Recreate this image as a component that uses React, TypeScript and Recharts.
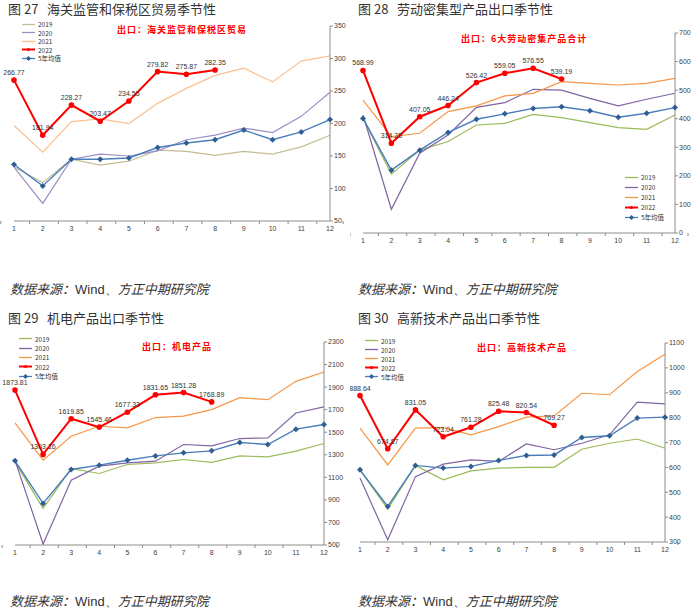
import React from 'react';
import { LineChart, Line, XAxis, YAxis, LabelList } from 'recharts';

const months = ['1', '2', '3', '4', '5', '6', '7', '8', '9', '10', '11', '12'];
const seriesNames = ['2019', '2020', '2021', '2022', '5年均值'];

// 图27 海关监管和保税区贸易
const customs2019 = [133, 109, 145, 136, 142, 159, 157, 151, 157, 153, 164, 182];
const customs2020 = [133, 77, 145, 153, 150, 158, 175, 182, 193, 186, 211, 248];
const customs2021 = [197, 156, 203, 207, 200, 231, 254, 274, 285, 264, 296, 304];
const customs2022 = [266.77, 181.94, 228.27, 203.47, 234.55, 279.82, 275.87, 282.35];
const customsAvg = [137, 104, 145, 145, 147, 163, 170, 175, 190, 175, 187, 206];
const customsTicks = [50, 100, 150, 200, 250, 300, 350];

// 图28 劳动密集型产品
const labor2019 = [401, 206, 290, 320, 378, 384, 415, 404, 386, 369, 363, 413];
const labor2020 = [413, 83, 279, 343, 440, 456, 503, 500, 471, 445, 468, 489];
const labor2021 = [465, 337, 349, 425, 445, 480, 489, 530, 524, 518, 524, 541];
const labor2022 = [568.99, 314.25, 407.05, 446.24, 526.42, 559.05, 576.55, 539.19];
const laborAvg = [401, 220, 290, 352, 398, 417, 436, 442, 428, 405, 419, 439];
const laborTicks = [0, 100, 200, 300, 400, 500, 600, 700];

// 图29 机电产品
const mech2019 = [1237, 825, 1178, 1134, 1214, 1228, 1258, 1232, 1290, 1281, 1332, 1400];
const mech2020 = [1252, 509, 1075, 1199, 1228, 1243, 1391, 1379, 1444, 1450, 1671, 1724];
const mech2021 = [1582, 1252, 1465, 1553, 1538, 1630, 1642, 1701, 1807, 1789, 1951, 2034];
const mech2022 = [1873.81, 1303.16, 1619.85, 1545.46, 1677.33, 1831.65, 1851.28, 1768.89];
const mechAvg = [1246, 869, 1170, 1208, 1252, 1290, 1317, 1335, 1409, 1391, 1527, 1568];
const mechTicks = [500, 700, 900, 1100, 1300, 1500, 1700, 1900, 2100, 2300];

// 图30 高新技术产品
const tech2019 = [590, 432, 608, 550, 586, 597, 600, 600, 673, 697, 714, 677];
const tech2020 = [557, 309, 563, 613, 630, 624, 694, 671, 697, 731, 862, 855];
const tech2021 = [758, 610, 758, 760, 731, 764, 802, 807, 898, 892, 985, 1055];
const tech2022 = [888.64, 674.87, 831.05, 723.04, 761.28, 825.48, 820.54, 769.27];
const techAvg = [590, 443, 608, 597, 604, 628, 648, 650, 720, 727, 798, 802];
const techTicks = [300, 400, 500, 600, 700, 800, 900, 1000, 1100];

const buildRows = (a: number[], b: number[], c: number[], d: number[], avg: number[]) =>
    months.map((m, i) => ({
        month: m,
        y2019: a[i],
        y2020: b[i],
        y2021: c[i],
        y2022: d[i] ?? null,
        avg: avg[i],
    }));

const COLORS_27 = ['#c4bd97', '#9d8fc6', '#fac090', '#ff0000', '#4a7ebb'];
const COLORS = ['#9bbb59', '#8064a2', '#f79646', '#ff0000', '#4a7ebb'];

const LATIN = '"Liberation Sans", Arial, sans-serif';
const TICK_STYLE = { fontSize: 7, fill: '#404040', fontFamily: LATIN };
const CJK = '"Noto Sans CJK SC", sans-serif';
const AXIS_COLOR = '#8c8c8c';

// 5年均值 的菱形标记
const Diamond = (props: any) => {
    const { cx, cy, index } = props;
    if (cx == null || cy == null) return <g key={`d-${index}`} />;
    const s = 3;
    return (
        <path
            key={`d-${index}`}
            d={`M${cx},${cy - s}L${cx + s},${cy}L${cx},${cy + s}L${cx - s},${cy}Z`}
            fill="#2f5f92"
        />
    );
};

// 类目轴：刻度线画在类目之间（同 Excel）
const makeMonthTick = (band: number) => (props: any) => {
    const { x, y, payload, index } = props;
    const axisY = y - 5;
    return (
        <g>
            <line x1={x - band / 2} y1={axisY} x2={x - band / 2} y2={axisY + 3} stroke={AXIS_COLOR} />
            {index === months.length - 1 && (
                <line x1={x + band / 2} y1={axisY} x2={x + band / 2} y2={axisY + 3} stroke={AXIS_COLOR} />
            )}
            <text x={x} y={y} dy="0.71em" textAnchor="middle" {...TICK_STYLE}>
                {payload.value}
            </text>
        </g>
    );
};

interface PanelProps {
    left: number;
    top: number;
    width: number;
    height: number;
    marginTop: number;
    marginLeft: number;
    yWidth: number;
    xHeight: number;
    domain: [number, number];
    ticks: number[];
    rows: any[];
    colors: string[];
    title: string;
    titleTop: number;
    subtitle: string;
    subtitleLeft: number;
    subtitleTop: number;
    legendLeft: number;
    legendTop: number;
    legendGap: number;
}

const Panel: React.FC<PanelProps> = (p) => {
    const band = (p.width - p.marginLeft - p.yWidth) / months.length;
    return (
        <div style={{ position: 'absolute', left: p.left, top: p.top, width: p.width, height: p.height }}>
            <div
                style={{
                    position: 'absolute',
                    left: 8,
                    top: p.titleTop,
                    fontFamily: CJK,
                    fontSize: 13,
                    color: '#333',
                    whiteSpace: 'pre',
                    lineHeight: '16px',
                }}
            >
                {p.title}
            </div>
            <div style={{ position: 'absolute', left: 0, top: 0 }}>
                <LineChart
                    width={p.width}
                    height={p.height}
                    data={p.rows}
                    margin={{ top: p.marginTop, right: 0, left: p.marginLeft, bottom: 0 }}
                >
                    <XAxis
                        dataKey="month"
                        height={p.xHeight}
                        interval={0}
                        tickLine={false}
                        tickSize={3}
                        tickMargin={2}
                        axisLine={{ stroke: AXIS_COLOR }}
                        tick={makeMonthTick(band)}
                    />
                    <YAxis
                        orientation="right"
                        width={p.yWidth}
                        domain={p.domain}
                        ticks={p.ticks}
                        interval={0}
                        tickSize={3}
                        tickMargin={1}
                        axisLine={{ stroke: AXIS_COLOR }}
                        tickLine={{ stroke: AXIS_COLOR }}
                        tick={{ ...TICK_STYLE, textAnchor: 'start' }}
                    />
                    <Line dataKey="y2019" stroke={p.colors[0]} strokeWidth={1.2} dot={false} isAnimationActive={false} />
                    <Line dataKey="y2020" stroke={p.colors[1]} strokeWidth={1.2} dot={false} isAnimationActive={false} />
                    <Line dataKey="y2021" stroke={p.colors[2]} strokeWidth={1.2} dot={false} isAnimationActive={false} />
                    <Line
                        dataKey="avg"
                        stroke={p.colors[4]}
                        strokeWidth={1.4}
                        dot={Diamond}
                        isAnimationActive={false}
                    />
                    <Line
                        dataKey="y2022"
                        stroke={p.colors[3]}
                        strokeWidth={2}
                        dot={{ r: 1.8, fill: '#ff0000', stroke: '#ff0000' }}
                        isAnimationActive={false}
                    >
                        <LabelList
                            dataKey="y2022"
                            position="top"
                            offset={5}
                            style={{ fontSize: 7, fill: '#333', fontFamily: LATIN }}
                            formatter={(v: any) => (v == null ? '' : Number(v).toFixed(2))}
                        />
                    </Line>
                </LineChart>
            </div>
            <div
                style={{
                    position: 'absolute',
                    left: p.subtitleLeft,
                    top: p.subtitleTop,
                    fontFamily: CJK,
                    fontWeight: 700,
                    fontSize: 9,
                    letterSpacing: 1,
                    color: '#ff0000',
                    whiteSpace: 'nowrap',
                    lineHeight: '12px',
                }}
            >
                {p.subtitle}
            </div>
            {/* 图例 */}
            <div style={{ position: 'absolute', left: p.legendLeft, top: p.legendTop }}>
                {seriesNames.map((name, i) => (
                    <div key={name} style={{ display: 'flex', alignItems: 'center', height: p.legendGap }}>
                        <svg width={13} height={7}>
                            <line
                                x1={0}
                                y1={3.5}
                                x2={13}
                                y2={3.5}
                                stroke={p.colors[i]}
                                strokeWidth={i === 3 ? 2 : 1.3}
                            />
                            {i === 3 && <circle cx={6.5} cy={3.5} r={1.6} fill="#ff0000" />}
                            {i === 4 && <path d="M6.5,1L9,3.5L6.5,6L4,3.5Z" fill="#2f5f92" />}
                        </svg>
                        <span
                            style={{
                                marginLeft: 3,
                                fontSize: 6.5,
                                color: '#333',
                                fontFamily: CJK,
                                lineHeight: '8px',
                                whiteSpace: 'nowrap',
                            }}
                        >
                            {name}
                        </span>
                    </div>
                ))}
            </div>
        </div>
    );
};

const Source: React.FC<{ left: number; top: number }> = ({ left, top }) => (
    <div
        style={{
            position: 'absolute',
            left,
            top,
            fontSize: 13,
            color: '#333',
            fontFamily: CJK,
            whiteSpace: 'nowrap',
            lineHeight: '16px',
        }}
    >
        <span style={{ fontStyle: 'italic' }}>数据来源：</span>
        <span style={{ fontFamily: LATIN }}>Wind、</span>
        <span style={{ fontStyle: 'italic' }}>方正中期研究院</span>
    </div>
);

export default function App() {
    return (
        <div
            style={{
                position: 'absolute',
                left: 0,
                top: 0,
                width: 700,
                height: 609,
                background: '#fff',
                overflow: 'hidden',
            }}
        >
            <Panel
                left={0}
                top={0}
                width={350}
                height={240}
                marginTop={26}
                marginLeft={14}
                yWidth={20}
                xHeight={19}
                domain={[50, 350]}
                ticks={customsTicks}
                rows={buildRows(customs2019, customs2020, customs2021, customs2022, customsAvg)}
                colors={COLORS_27}
                title="图 27   海关监管和保税区贸易季节性"
                titleTop={1}
                subtitle="出口：海关监管和保税区贸易"
                subtitleLeft={117}
                subtitleTop={24}
                legendLeft={22}
                legendTop={20}
                legendGap={8.5}
            />
            <Panel
                left={350}
                top={0}
                width={350}
                height={250}
                marginTop={33}
                marginLeft={13}
                yWidth={25}
                xHeight={17}
                domain={[0, 700]}
                ticks={laborTicks}
                rows={buildRows(labor2019, labor2020, labor2021, labor2022, laborAvg)}
                colors={COLORS}
                title="图 28   劳动密集型产品出口季节性"
                titleTop={1}
                subtitle="出口：6大劳动密集产品合计"
                subtitleLeft={111}
                subtitleTop={33}
                legendLeft={275}
                legendTop={172}
                legendGap={10}
            />
            <Panel
                left={0}
                top={300}
                width={350}
                height={265}
                marginTop={42}
                marginLeft={15}
                yWidth={26}
                xHeight={20}
                domain={[500, 2300]}
                ticks={mechTicks}
                rows={buildRows(mech2019, mech2020, mech2021, mech2022, mechAvg)}
                colors={COLORS}
                title="图 29   机电产品出口季节性"
                titleTop={10}
                subtitle="出口：机电产品"
                subtitleLeft={142}
                subtitleTop={41}
                legendLeft={19}
                legendTop={34}
                legendGap={9.4}
            />
            <Panel
                left={350}
                top={300}
                width={350}
                height={262}
                marginTop={43}
                marginLeft={10}
                yWidth={35}
                xHeight={20}
                domain={[300, 1100]}
                ticks={techTicks}
                rows={buildRows(tech2019, tech2020, tech2021, tech2022, techAvg)}
                colors={COLORS}
                title="图 30   高新技术产品出口季节性"
                titleTop={10}
                subtitle="出口：高新技术产品"
                subtitleLeft={127}
                subtitleTop={42}
                legendLeft={15}
                legendTop={36}
                legendGap={9}
            />
            <Source left={10} top={281} />
            <Source left={358} top={281} />
            <Source left={10} top={593} />
            <Source left={358} top={593} />
        </div>
    );
}
